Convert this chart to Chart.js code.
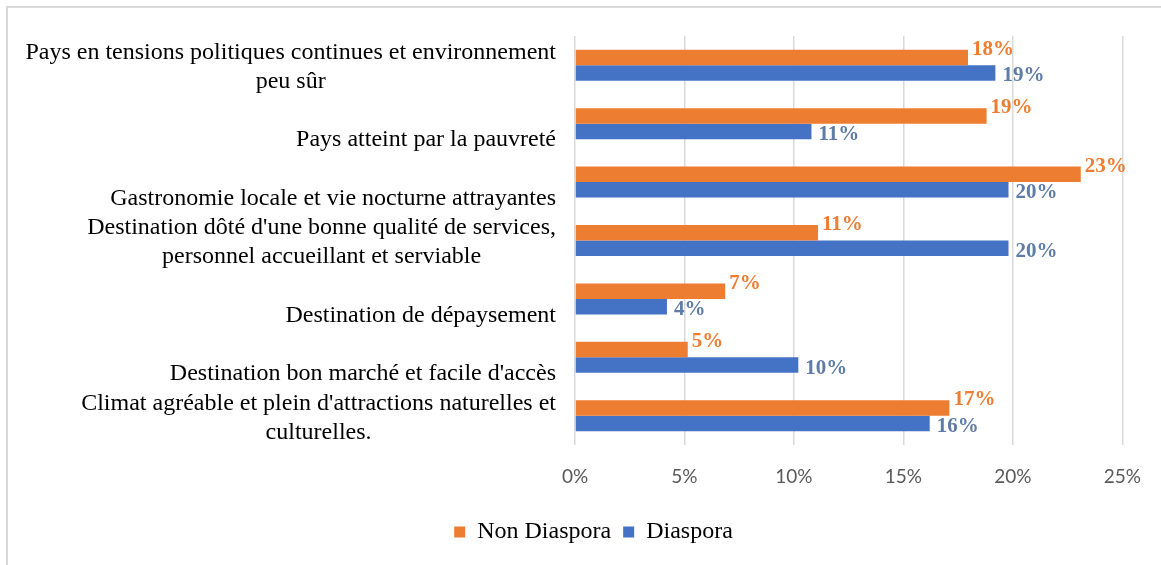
<!DOCTYPE html>
<html>
<head>
<meta charset="utf-8">
<script src="https://cdn.jsdelivr.net/npm/chart.js@4/dist/chart.umd.min.js"></script>
<style>
  html, body { margin: 0; padding: 0; background: #ffffff; }
  #wrap { position: relative; width: 1161px; height: 565px; overflow: hidden; }
  #frame { position: absolute; left: 6px; top: 6px; width: 1200px; height: 600px;
           border-top: 2px solid #d9d9d9; border-left: 2px solid #d9d9d9; }
  canvas { position: absolute; left: 0; top: 0; }
</style>
</head>
<body>
<div id="wrap">
  <div id="frame"></div>
  <canvas id="c" width="1161" height="565"></canvas>
</div>
<script>
const categories = [
  ['Pays en tensions politiques continues et environnement', 'peu sûr'],
  ['Pays atteint par la pauvreté'],
  ['Gastronomie locale et vie nocturne attrayantes'],
  ["Destination dôté d'une bonne qualité de services,", 'personnel accueillant et serviable'],
  ['Destination de dépaysement'],
  ["Destination bon marché et facile d'accès"],
  ["Climat agréable et plein d'attractions naturelles et", 'culturelles.']
];
const seriesNames = ['Non Diaspora', 'Diaspora'];
const nonDiaspora = [17.95, 18.8, 23.1, 11.1, 6.86, 5.15, 17.1];
const diaspora = [19.2, 10.8, 19.8, 19.8, 4.2, 10.2, 16.2];
const xTicks = [0, 5, 10, 15, 20, 25];

const ORANGE = '#ED7D31';
const BLUE = '#4472C4';
const LABEL_COLORS = ['#ED7D31', '#5F7CA6'];
const SERIF = '"Liberation Serif", "Times New Roman", serif';

const padLeft = 64;

const catLabelPlugin = {
  id: 'catLabels',
  afterDraw(chart) {
    const ctx = chart.ctx;
    const ys = chart.scales.y;
    ctx.save();
    ctx.font = '24px ' + SERIF;
    ctx.fillStyle = '#000000';
    ctx.textAlign = 'center';
    ctx.textBaseline = 'middle';
    const rightX = 556;
    const lh = 29;
    categories.forEach((lines, i) => {
      const y = ys.getPixelForTick(i);
      const slots = lines.length === 1 ? ['', lines[0]] : lines;
      let w = 0;
      lines.forEach(l => { w = Math.max(w, ctx.measureText(l).width); });
      const cx = rightX - w / 2;
      slots.forEach((l, k) => {
        if (!l) return;
        ctx.fillText(l, cx, y + 2 + (k - (slots.length - 1) / 2) * lh);
      });
    });
    ctx.restore();
  }
};

const valueLabelPlugin = {
  id: 'valueLabels',
  afterDatasetsDraw(chart) {
    const ctx = chart.ctx;
    ctx.save();
    ctx.font = 'bold 21px ' + SERIF;
    ctx.textAlign = 'left';
    ctx.textBaseline = 'middle';
    chart.data.datasets.forEach((ds, di) => {
      const meta = chart.getDatasetMeta(di);
      const dx = di === 0 ? 4 : 7;
      const dy = di === 0 ? -8 : 3;
      ctx.fillStyle = LABEL_COLORS[di];
      meta.data.forEach((el, i) => {
        ctx.fillText(Math.round(ds.data[i]) + '%', el.x + dx, el.y + dy);
      });
    });
    ctx.restore();
  }
};

new Chart(document.getElementById('c'), {
  type: 'bar',
  data: {
    labels: categories,
    datasets: [
      { label: seriesNames[0], data: nonDiaspora, backgroundColor: ORANGE,
        categoryPercentage: 0.53, barPercentage: 1.0 },
      { label: seriesNames[1], data: diaspora, backgroundColor: BLUE,
        categoryPercentage: 0.53, barPercentage: 1.0 }
    ]
  },
  options: {
    indexAxis: 'y',
    responsive: false,
    animation: false,
    devicePixelRatio: 1,
    layout: { padding: { left: padLeft, right: 38, top: 36, bottom: 11 } },
    scales: {
      x: {
        min: 0, max: 25,
        afterBuildTicks(s) { s.ticks = xTicks.map(v => ({ value: v })); },
        afterFit(s) { s.height = 63; },
        ticks: {
          callback: v => v + '%',
          color: '#595959',
          font: { family: 'Lato', size: 19 },
          padding: 20,
          maxRotation: 0
        },
        grid: { color: '#d9d9d9', lineWidth: 1.5, drawTicks: false },
        border: { display: false }
      },
      y: {
        afterFit(s) { s.width = 575 - padLeft; },
        ticks: { display: false },
        grid: { display: false },
        border: { display: false }
      }
    },
    plugins: {
      legend: {
        position: 'bottom',
        labels: {
          color: '#000000',
          font: { family: 'Liberation Serif', size: 24 },
          boxWidth: 11,
          boxHeight: 11,
          padding: 12
        }
      },
      tooltip: { enabled: false }
    }
  },
  plugins: [catLabelPlugin, valueLabelPlugin]
});
</script>
</body>
</html>
